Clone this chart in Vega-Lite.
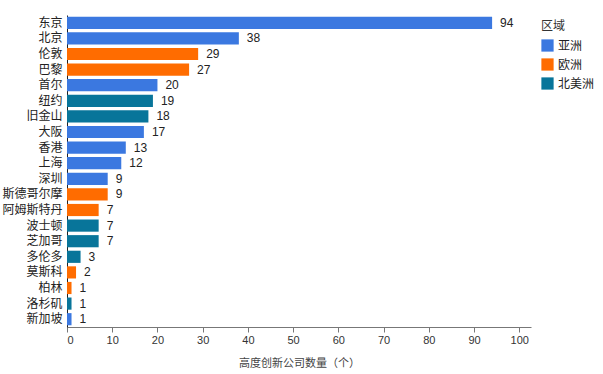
{
  "$schema": "https://vega.github.io/schema/vega-lite/v6.json",
  "width": 464,
  "height": 312,
  "autosize": {"type": "none"},
  "padding": {"left": 67, "top": 15, "right": 72, "bottom": 47},
  "config": {
    "font": "Liberation Sans, Noto Sans CJK SC, sans-serif",
    "view": {"stroke": null}
  },
  "data": {
    "values": [
      {"city": "东京", "region": "亚洲", "count": 94},
      {"city": "北京", "region": "亚洲", "count": 38},
      {"city": "伦敦", "region": "欧洲", "count": 29},
      {"city": "巴黎", "region": "欧洲", "count": 27},
      {"city": "首尔", "region": "亚洲", "count": 20},
      {"city": "纽约", "region": "北美洲", "count": 19},
      {"city": "旧金山", "region": "北美洲", "count": 18},
      {"city": "大阪", "region": "亚洲", "count": 17},
      {"city": "香港", "region": "亚洲", "count": 13},
      {"city": "上海", "region": "亚洲", "count": 12},
      {"city": "深圳", "region": "亚洲", "count": 9},
      {"city": "斯德哥尔摩", "region": "欧洲", "count": 9},
      {"city": "阿姆斯特丹", "region": "欧洲", "count": 7},
      {"city": "波士顿", "region": "北美洲", "count": 7},
      {"city": "芝加哥", "region": "北美洲", "count": 7},
      {"city": "多伦多", "region": "北美洲", "count": 3},
      {"city": "莫斯科", "region": "欧洲", "count": 2},
      {"city": "柏林", "region": "欧洲", "count": 1},
      {"city": "洛杉矶", "region": "北美洲", "count": 1},
      {"city": "新加坡", "region": "亚洲", "count": 1}
    ]
  },
  "encoding": {
    "y": {
      "field": "city",
      "type": "nominal",
      "sort": null,
      "scale": {"paddingInner": 0.22, "paddingOuter": 0.11},
      "axis": {
        "title": null,
        "ticks": false,
        "labelFontSize": 12,
        "labelColor": "#222",
        "labelPadding": 5,
        "domainColor": "#222",
        "labelFont": "Noto Sans CJK SC"
      }
    },
    "x": {
      "field": "count",
      "type": "quantitative",
      "scale": {"domain": [0, 102.6], "nice": false},
      "axis": {
        "values": [0, 10, 20, 30, 40, 50, 60, 70, 80, 90, 100],
        "grid": false,
        "title": "高度创新公司数量（个）",
        "titleFont": "Noto Sans CJK SC",
        "titleFontWeight": "normal",
        "titleFontSize": 11,
        "titleColor": "#444",
        "titlePadding": 12,
        "labelFontSize": 11,
        "labelColor": "#333",
        "domainColor": "#777",
        "tickColor": "#777",
        "tickSize": 5
      }
    }
  },
  "layer": [
    {
      "mark": {"type": "bar"},
      "encoding": {
        "color": {
          "field": "region",
          "type": "nominal",
          "scale": {"domain": ["亚洲", "欧洲", "北美洲"], "range": ["#3b78e0", "#ff6c00", "#08759a"]},
          "legend": {
            "title": "区域",
            "orient": "none",
            "legendX": 474,
            "legendY": 6,
            "symbolType": "square",
            "symbolSize": 150,
            "symbolStrokeWidth": 0,
            "titleFont": "Noto Sans CJK SC",
            "titleFontWeight": "normal",
            "titleFontSize": 12,
            "titleColor": "#333",
            "labelFont": "Noto Sans CJK SC",
            "labelFontSize": 12,
            "labelColor": "#222",
            "rowPadding": 6,
            "titlePadding": 6
          }
        }
      }
    },
    {
      "mark": {"type": "text", "align": "left", "dx": 8, "fontSize": 12, "color": "#222"},
      "encoding": {
        "text": {"field": "count", "type": "quantitative"}
      }
    }
  ]
}
